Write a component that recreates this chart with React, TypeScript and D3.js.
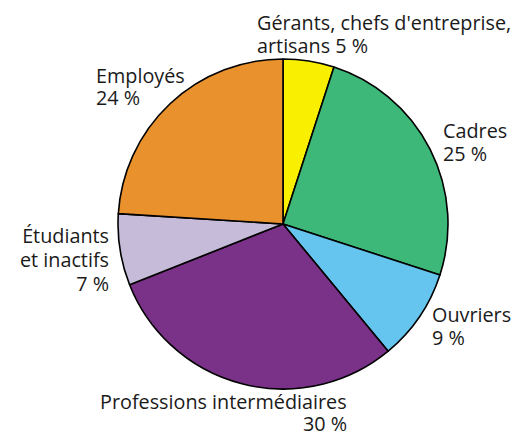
import React from "react";
import * as d3 from "d3";

const categories = [
  "Gérants, chefs d'entreprise, artisans",
  "Cadres",
  "Ouvriers",
  "Professions intermédiaires",
  "Étudiants et inactifs",
  "Employés",
];
const values = [5, 25, 9, 30, 7, 24];
const colors = ["#f8f000", "#3db879", "#66c5ef", "#7a3188", "#c6bbd9", "#e9912d"];

// label lines per category (text only)
const labelLines = [
  ["Gérants, chefs d'entreprise,", "artisans 5 %"],
  ["Cadres", "25 %"],
  ["Ouvriers", "9 %"],
  ["Professions intermédiaires", "30 %"],
  ["Étudiants", "et inactifs", "7 %"],
  ["Employés", "24 %"],
];

const W = 522;
const H = 436;
const cx = 283;
const cy = 224;
const R = 165;

const labelPos: { x: number; y: number; lh: number; anchors: string[] }[] = [
  { x: 257, y: 30, lh: 23, anchors: ["start", "start"] },
  { x: 443, y: 138, lh: 23, anchors: ["start", "start"] },
  { x: 432, y: 322, lh: 23, anchors: ["start", "start"] },
  { x: 100, y: 409, lh: 22, anchors: ["start", "end"] },
  { x: 109, y: 243, lh: 24, anchors: ["end", "end", "end"] },
  { x: 96, y: 83, lh: 22, anchors: ["start", "start"] },
];
const lineEnds = [null, null, null, 347, null, null];

export default function App() {
  const pie = d3.pie<number>().sort(null).value((d) => d)(values);
  const arc = d3.arc<d3.PieArcDatum<number>>().innerRadius(0).outerRadius(R);
  return (
    <svg
      width={W}
      height={H}
      style={{ position: "absolute", left: 0, top: 0, background: "#fff" }}
      fontFamily="'Open Sans', sans-serif"
    >
      <rect width={W} height={H} fill="#fff" />
      <g transform={`translate(${cx},${cy})`}>
        {pie.map((p, i) => (
          <path
            key={categories[i]}
            d={arc(p) || ""}
            fill={colors[i]}
            stroke="#000"
            strokeWidth={1.6}
            strokeLinejoin="round"
          />
        ))}
      </g>
      {labelLines.map((lines, i) => {
        const pos = labelPos[i];
        return (
          <text key={i} fontSize={19.8} fill="#1a1a1a">
            {lines.map((l, j) => {
              const anchor = pos.anchors[j];
              const x = anchor === "end" && lineEnds[i] != null ? (lineEnds[i] as number) : pos.x;
              return (
                <tspan key={j} x={x} y={pos.y + j * pos.lh} textAnchor={anchor}>
                  {l}
                </tspan>
              );
            })}
          </text>
        );
      })}
    </svg>
  );
}
